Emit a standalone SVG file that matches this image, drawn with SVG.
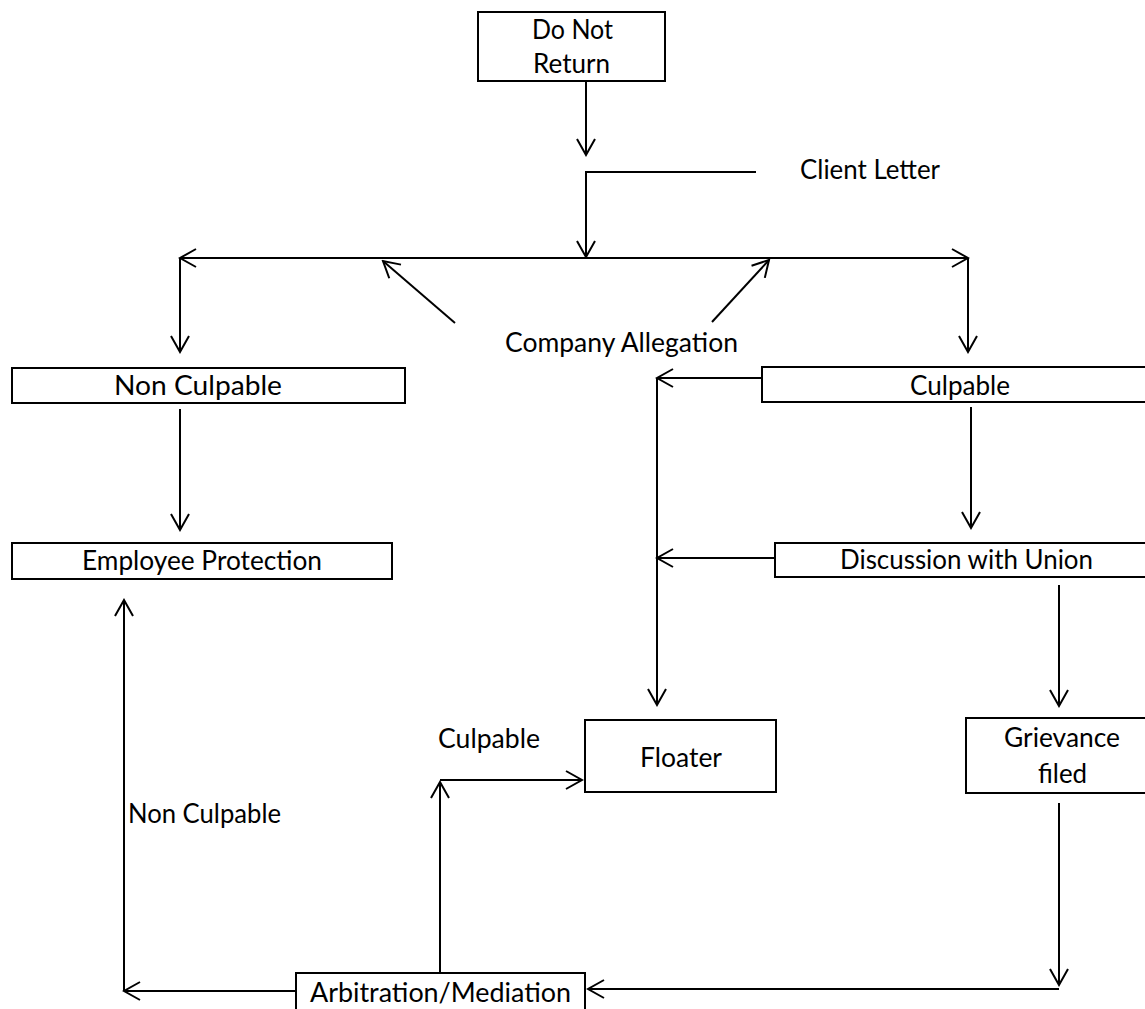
<svg xmlns="http://www.w3.org/2000/svg" width="1145" height="1009" viewBox="0 0 1145 1009">
<style>
.box{fill:#fff;stroke:#000;stroke-width:2}
.t{font-family:Lato,"Liberation Sans",sans-serif;font-size:26px;fill:#000}
.c{fill:none;stroke:#000;stroke-width:2}
.a{marker-end:url(#arr)}
</style>
<defs>
<marker id="arr" markerUnits="userSpaceOnUse" viewBox="-18 -11 20 22" markerWidth="20" markerHeight="22" refX="0" refY="0" orient="auto">
<path d="M-16,-9 L0,0 L-16,9" fill="none" stroke="#000" stroke-width="2"/>
</marker>
</defs>
<rect width="1145" height="1009" fill="#fff"/>
<g id="connectors">
<path class="c a" d="M586,81 V155"/>
<path class="c a" d="M756,172 H586 V257"/>
<path class="c a" d="M586,258 H180"/>
<path class="c a" d="M586,258 H968"/>
<path class="c a" d="M180,258 V352"/>
<path class="c a" d="M968,258 V352"/>
<path class="c a" d="M455,323 L383,261"/>
<path class="c a" d="M712,322 L769,260"/>
<path class="c a" d="M180,409 V530"/>
<path class="c a" d="M762,378 H657"/>
<path class="c a" d="M657,378 V705"/>
<path class="c a" d="M971,407 V528"/>
<path class="c a" d="M775,558 H657"/>
<path class="c a" d="M1059,585 V706"/>
<path class="c a" d="M1059,803 V985"/>
<path class="c a" d="M1059,989 H588"/>
<path class="c a" d="M440,973 V782"/>
<path class="c a" d="M440,780 H582"/>
<path class="c a" d="M296,991 H124"/>
<path class="c a" d="M124,991 V600"/>
</g>
<g id="labels">
<text class="t" x="800" y="179" textLength="140" lengthAdjust="spacingAndGlyphs">Client Letter</text>
<text class="t" x="505" y="352" textLength="233" lengthAdjust="spacingAndGlyphs">Company Allegation</text>
<text class="t" x="438" y="748" textLength="102" lengthAdjust="spacingAndGlyphs">Culpable</text>
<text class="t" x="128" y="823" textLength="153" lengthAdjust="spacingAndGlyphs">Non Culpable</text>
</g>
<g id="do-not-return">
<rect class="box" x="478" y="12" width="187" height="69"/>
<text class="t" x="532" y="39" textLength="81" lengthAdjust="spacingAndGlyphs">Do Not</text>
<text class="t" x="533" y="73" textLength="77" lengthAdjust="spacingAndGlyphs">Return</text>
</g>
<g id="non-culpable">
<rect class="box" x="12" y="368" width="393" height="35"/>
<text class="t" x="114" y="395" textLength="168" lengthAdjust="spacingAndGlyphs">Non Culpable</text>
</g>
<g id="culpable">
<rect class="box" x="762" y="367" width="398" height="35"/>
<text class="t" x="910" y="395" textLength="100" lengthAdjust="spacingAndGlyphs">Culpable</text>
</g>
<g id="employee-protection">
<rect class="box" x="12" y="543" width="380" height="36"/>
<text class="t" x="82" y="570" textLength="240" lengthAdjust="spacingAndGlyphs">Employee Protection</text>
</g>
<g id="discussion-with-union">
<rect class="box" x="775" y="543" width="385" height="34"/>
<text class="t" x="840" y="569" textLength="253" lengthAdjust="spacingAndGlyphs">Discussion with Union</text>
</g>
<g id="floater">
<rect class="box" x="585" y="720" width="191" height="72"/>
<text class="t" x="640" y="767" textLength="82" lengthAdjust="spacingAndGlyphs">Floater</text>
</g>
<g id="grievance-filed">
<rect class="box" x="966" y="718" width="194" height="75"/>
<text class="t" x="1004" y="747" textLength="116" lengthAdjust="spacingAndGlyphs">Grievance</text>
<text class="t" x="1038" y="783" textLength="49" lengthAdjust="spacingAndGlyphs">filed</text>
</g>
<g id="arbitration-mediation">
<rect class="box" x="296" y="973" width="289" height="40"/>
<text class="t" x="310" y="1002" textLength="261" lengthAdjust="spacingAndGlyphs">Arbitration/Mediation</text>
</g>
</svg>
